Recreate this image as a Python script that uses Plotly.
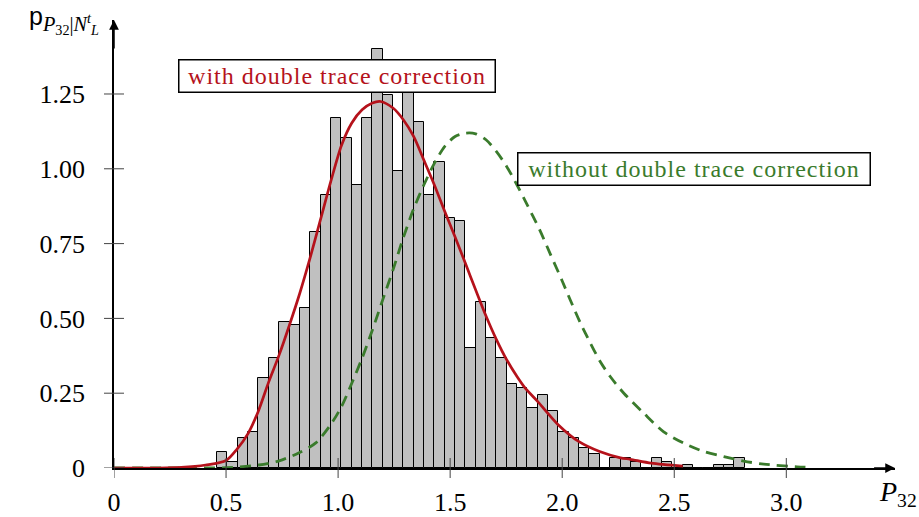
import plotly.graph_objects as go

# ---------------- data ----------------
bin_start = 0.460
bin_width = 0.04616
bar_heights = [0.055, 0.021, 0.101, 0.121, 0.300, 0.367, 0.489, 0.478, 0.534, 0.790,
               0.913, 1.169, 1.103, 0.946, 1.169, 1.401, 1.245, 0.991, 1.258, 1.158,
               0.913, 1.024, 0.835, 0.824, 0.400, 0.556, 0.434, 0.367, 0.280, 0.269,
               0.202, 0.245, 0.189, 0.122, 0.100, 0.067, 0.046, 0.0, 0.032, 0.032,
               0.021, 0.0, 0.032, 0.021, 0.0, 0.010, 0.0, 0.0, 0.010, 0.010, 0.032]

red_x = [0.0, 0.2, 0.3, 0.409, 0.5, 0.549, 0.598, 0.644, 0.690, 0.737, 0.783, 0.829,
         0.875, 0.921, 0.969, 1.015, 1.061, 1.107, 1.153, 1.19, 1.245, 1.291, 1.337,
         1.382, 1.43, 1.476, 1.522, 1.568, 1.614, 1.66, 1.706, 1.752, 1.799, 1.836,
         1.891, 1.983, 2.075, 2.167, 2.26, 2.304, 2.397, 2.538]
red_y = [0.0, 0.0, 0.002, 0.010, 0.025, 0.063, 0.115, 0.190, 0.287, 0.378, 0.478, 0.584,
         0.702, 0.829, 0.962, 1.078, 1.153, 1.197, 1.220, 1.225, 1.203, 1.164, 1.108,
         1.030, 0.945, 0.857, 0.772, 0.684, 0.595, 0.508, 0.430, 0.362, 0.305, 0.266,
         0.222, 0.144, 0.088, 0.055, 0.034, 0.029, 0.016, 0.006]

green_x = [0.0, 0.3, 0.5, 0.646, 0.737, 0.826, 0.899, 0.966, 1.015, 1.061, 1.107, 1.153,
           1.199, 1.245, 1.291, 1.337, 1.382, 1.43, 1.476, 1.522, 1.568, 1.614, 1.66,
           1.706, 1.752, 1.799, 1.836, 1.9, 1.947, 2.0, 2.037, 2.081, 2.126, 2.170,
           2.215, 2.275, 2.364, 2.453, 2.542, 2.632, 2.721, 2.81, 2.899, 3.048, 3.117]
green_y = [0.0, 0.0, 0.001, 0.010, 0.024, 0.051, 0.083, 0.144, 0.205, 0.283, 0.367, 0.461,
           0.562, 0.662, 0.770, 0.866, 0.945, 1.019, 1.075, 1.108, 1.119, 1.117, 1.097,
           1.058, 1.008, 0.945, 0.891, 0.795, 0.715, 0.625, 0.560, 0.485, 0.417, 0.355,
           0.305, 0.250, 0.183, 0.121, 0.083, 0.055, 0.038, 0.023, 0.013, 0.004, 0.002]

x_tick_vals = [0, 0.5, 1.0, 1.5, 2.0, 2.5, 3.0]
x_tick_text = ["0", "0.5", "1.0", "1.5", "2.0", "2.5", "3.0"]
y_tick_vals = [0, 0.25, 0.5, 0.75, 1.0, 1.25]
y_tick_text = ["0", "0.25", "0.50", "0.75", "1.00", "1.25"]

label_with = "with double trace correction"
label_without = "without double trace correction"

# ---------------- style ----------------
RED = "#b5121b"
GREEN = "#3a7b2c"
SERIF = "Liberation Serif"
X_MAX = 3.485
Y_MAX = 1.4973

centers = [bin_start + (i + 0.5) * bin_width for i in range(len(bar_heights))]

fig = go.Figure()
fig.add_trace(go.Bar(x=centers, y=bar_heights, width=bin_width,
                     marker=dict(color="#c0c0c0", line=dict(color="black", width=1)),
                     showlegend=False))
fig.add_trace(go.Scatter(x=green_x, y=green_y, mode="lines", showlegend=False,
                         line=dict(color=GREEN, width=2.8, dash="11px,7px",
                                   shape="spline", smoothing=0.8)))
fig.add_trace(go.Scatter(x=red_x, y=red_y, mode="lines", showlegend=False,
                         line=dict(color=RED, width=2.7, shape="spline", smoothing=0.8)))

# tick marks crossing the axes
for v in x_tick_vals:
    fig.add_shape(type="line", xref="x", yref="paper", ysizemode="pixel", yanchor=0,
                  x0=v, x1=v, y0=-10, y1=10, line=dict(color="#444", width=1), layer="above")
for v in y_tick_vals:
    fig.add_shape(type="line", xref="paper", yref="y", xsizemode="pixel", xanchor=0,
                  x0=-10, x1=10, y0=v, y1=v, line=dict(color="#444", width=1), layer="above")

# axis arrows
fig.add_annotation(x=X_MAX, y=0, ax=X_MAX - 0.1, ay=0, xref="x", yref="y", axref="x", ayref="y",
                   text="", showarrow=True, arrowhead=2, arrowsize=1.3, arrowwidth=1.5,
                   arrowcolor="black")
fig.add_annotation(x=0, y=Y_MAX, ax=0, ay=Y_MAX - 0.1, xref="x", yref="y", axref="x", ayref="y",
                   text="", showarrow=True, arrowhead=2, arrowsize=1.3, arrowwidth=1.5,
                   arrowcolor="black")

# labels boxes
fig.add_annotation(x=0.997, y=1.310, xref="x", yref="y", showarrow=False,
                   text='<span style="letter-spacing:1px">' + label_with + "</span>",
                   font=dict(family=SERIF, size=24, color=RED),
                   bgcolor="white", bordercolor="black", borderwidth=1.5, borderpad=1,
                   width=313, height=29)
fig.add_annotation(x=2.590, y=0.999, xref="x", yref="y", showarrow=False,
                   text='<span style="letter-spacing:1px">' + label_without + "</span>",
                   font=dict(family=SERIF, size=24, color=GREEN),
                   bgcolor="white", bordercolor="black", borderwidth=1.5, borderpad=1,
                   width=349, height=29)

# axis titles
fig.add_annotation(x=1.004, y=-0.058, xref="paper", yref="paper", showarrow=False,
                   text="<i>P</i><sub>32</sub>", font=dict(family=SERIF, size=28, color="black"),
                   xanchor="center", yanchor="middle")
fig.add_annotation(x=-0.017, y=1.0, xref="paper", yref="paper", showarrow=False,
                   text='<span style="font-family:Liberation Sans;font-size:25px">p</span>'
                        '<sub><i>P</i><sub>32</sub>|<i>N</i><sup><i>t</i></sup><sub><i>L</i></sub></sub>',
                   font=dict(family=SERIF, size=29, color="black"),
                   xanchor="right", yanchor="middle")

fig.update_layout(
    width=919, height=517,
    margin=dict(l=114, r=24, t=20, b=49, autoexpand=False),
    paper_bgcolor="white", plot_bgcolor="white",
    bargap=0,
    xaxis=dict(range=[0, X_MAX], showgrid=False, zeroline=False, showline=True,
               automargin=False,
               linecolor="black", linewidth=1.5, ticks="", tickmode="array",
               tickvals=x_tick_vals, ticktext=x_tick_text, ticklabelstandoff=10,
               tickfont=dict(family=SERIF, size=26, color="black")),
    yaxis=dict(range=[0, Y_MAX], showgrid=False, zeroline=False, showline=True,
               automargin=False,
               linecolor="black", linewidth=1.5, ticks="", tickmode="array",
               tickvals=y_tick_vals, ticktext=y_tick_text, ticklabelstandoff=22,
               tickfont=dict(family=SERIF, size=26, color="black")),
)

fig.write_html("out.html")
